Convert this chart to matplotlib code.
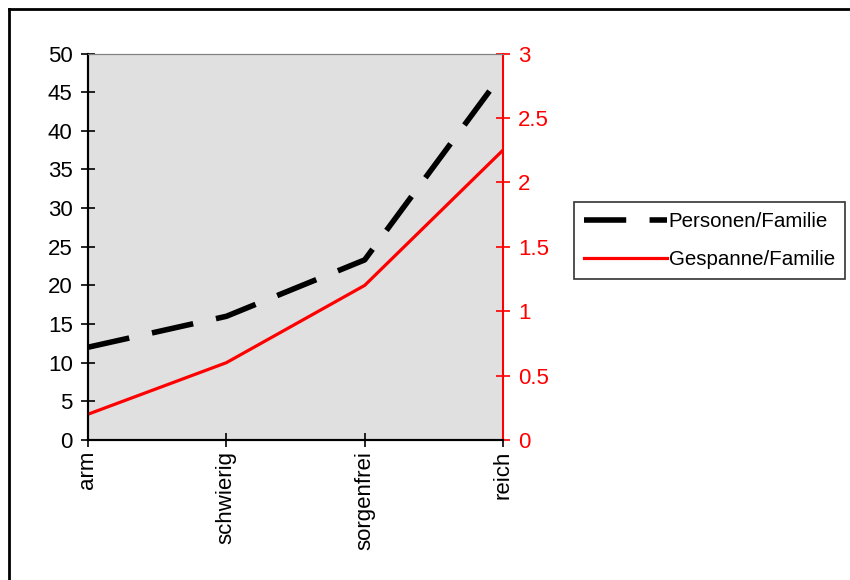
import matplotlib
matplotlib.use("Agg")
import matplotlib.pyplot as plt
from matplotlib.lines import Line2D
import numpy as np

plt.rcParams["font.family"] = ["Liberation Sans", "DejaVu Sans"]

categories = ["arm", "schwierig", "sorgenfrei", "reich"]
personen = [12.0, 16.0, 23.3, 47.5]
gespanne = [0.2, 0.6, 1.2, 2.25]

RED = "#ff0000"

fig = plt.figure(figsize=(8.5, 5.8), dpi=100)
ax = fig.add_axes([88/850, 1-440/580, (503-88)/850, (440-53.5)/580])
ax2 = ax.twinx()

x = np.arange(len(categories))
l1, = ax.plot(x, personen, color="black", lw=4.0, dashes=(7.6, 4.2),
              solid_capstyle="butt", dash_capstyle="butt", label="Personen/Familie")
l2, = ax2.plot(x, gespanne, color=RED, lw=2.3, label="Gespanne/Familie")

ax.set_facecolor("#e0e0e0")
ax.set_xlim(0, 3)
ax.set_ylim(0, 50)
ax.set_yticks(np.arange(0, 51, 5))
ax2.set_ylim(0, 3)
ax2.set_yticks([0, 0.5, 1, 1.5, 2, 2.5, 3])
ax2.set_yticklabels(["0", "0.5", "1", "1.5", "2", "2.5", "3"])

ax.set_xticks(x)
ax.set_xticklabels(categories, rotation=90, va="top")
ax.tick_params(axis="both", direction="inout", length=10, width=1.2, labelsize=16)
ax.tick_params(axis="y", pad=6)
ax.tick_params(axis="x", pad=3)
ax2.tick_params(axis="y", direction="inout", length=10, width=1.2, labelsize=16,
                colors=RED, pad=6)

for a in (ax, ax2):
    a.spines["top"].set_color("#808080")
    a.spines["left"].set_color("black")
    a.spines["bottom"].set_color("black")
    a.spines["left"].set_linewidth(1.5)
    a.spines["bottom"].set_linewidth(1.5)
ax2.spines["right"].set_color(RED)
ax2.spines["right"].set_linewidth(1.5)
ax.spines["right"].set_visible(False)

leg = fig.legend([l1, l2], ["Personen/Familie", "Gespanne/Familie"],
                 loc="upper left", bbox_to_anchor=(574/850, 1-202/580),
                 fontsize=14.8, frameon=True, fancybox=False, handlelength=4.0,
                 handletextpad=0.1, borderpad=0.5, labelspacing=0.9,
                 borderaxespad=0)
leg.get_frame().set_edgecolor("black")
leg.get_frame().set_linewidth(1.2)

# outer chart frame (left and top edges visible)
fig.add_artist(Line2D([9/850, 9/850], [0, 1-9/580], color="black", lw=2,
                      transform=fig.transFigure))
fig.add_artist(Line2D([9/850, 1], [1-9/580, 1-9/580], color="black", lw=2,
                      transform=fig.transFigure))

fig.savefig("out.png", dpi=100)
